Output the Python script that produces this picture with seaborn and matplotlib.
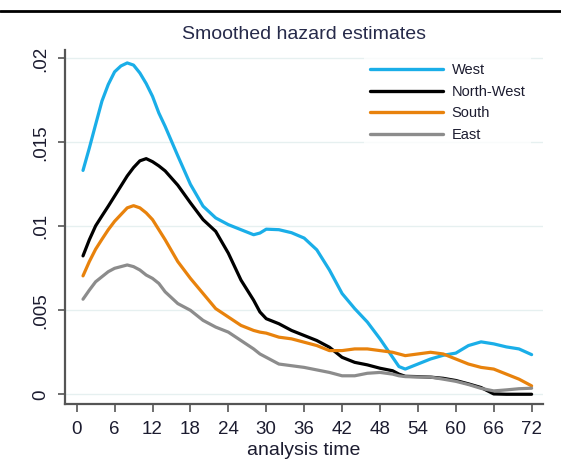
import matplotlib
matplotlib.use("Agg")
import matplotlib.pyplot as plt
import numpy as np
import pandas as pd
import seaborn as sns

# Analysis time (months) at which the smoothed hazards are listed
time = [1, 2, 3, 4, 5, 6, 7, 8, 9, 10, 11, 12, 13, 14, 16, 18, 20, 22, 24, 26,
        28, 29, 30, 32, 34, 36, 38, 40, 42, 44, 46, 48, 50, 51, 52, 54, 56, 58,
        60, 62, 64, 66, 68, 70, 72]

west = [0.01333, 0.01466, 0.01607, 0.01746, 0.01845, 0.01920, 0.01955, 0.01973,
        0.01960, 0.01913, 0.01850, 0.01774, 0.01675, 0.01595, 0.01420, 0.01250,
        0.01120, 0.01050, 0.01010, 0.00980, 0.00950, 0.00960, 0.00983, 0.00980,
        0.00962, 0.00930, 0.00860, 0.00740, 0.00600, 0.00510, 0.00430, 0.00330,
        0.00220, 0.00165, 0.00150, 0.00180, 0.00210, 0.00232, 0.00245, 0.00290,
        0.00312, 0.00300, 0.00282, 0.00270, 0.00236]

north_west = [0.00824, 0.00920, 0.01003, 0.01062, 0.01120, 0.01180, 0.01240,
              0.01300, 0.01350, 0.01390, 0.01403, 0.01385, 0.01360, 0.01330,
              0.01245, 0.01140, 0.01040, 0.00970, 0.00840, 0.00680, 0.00560,
              0.00490, 0.00450, 0.00420, 0.00380, 0.00350, 0.00320, 0.00280,
              0.00220, 0.00190, 0.00175, 0.00155, 0.00140, 0.00120, 0.00107,
              0.00105, 0.00102, 0.00095, 0.00082, 0.00062, 0.00040, 0.00002,
              0.00000, 0.00000, 0.00000]

south = [0.00705, 0.00790, 0.00864, 0.00923, 0.00980, 0.01030, 0.01070, 0.01110,
         0.01123, 0.01110, 0.01080, 0.01040, 0.00980, 0.00920, 0.00790, 0.00690,
         0.00600, 0.00510, 0.00460, 0.00410, 0.00380, 0.00370, 0.00364, 0.00340,
         0.00330, 0.00310, 0.00290, 0.00260, 0.00260, 0.00270, 0.00270, 0.00260,
         0.00250, 0.00240, 0.00230, 0.00240, 0.00250, 0.00240, 0.00210, 0.00180,
         0.00160, 0.00150, 0.00120, 0.00090, 0.00050]

east = [0.00566, 0.00620, 0.00670, 0.00700, 0.00730, 0.00750, 0.00760, 0.00770,
        0.00760, 0.00740, 0.00710, 0.00690, 0.00660, 0.00610, 0.00540, 0.00500,
        0.00440, 0.00400, 0.00370, 0.00320, 0.00270, 0.00240, 0.00220, 0.00180,
        0.00170, 0.00160, 0.00145, 0.00130, 0.00110, 0.00110, 0.00125, 0.00130,
        0.00120, 0.00110, 0.00105, 0.00103, 0.00102, 0.00090, 0.00077, 0.00058,
        0.00035, 0.00020, 0.00026, 0.00033, 0.00036]

regions = ["West", "North-West", "South", "East"]
colors = ["#1aaee8", "#000000", "#e8820c", "#8c8c8c"]

x_ticks = list(range(0, 73, 6))
y_ticks = [0, 0.005, 0.01, 0.015, 0.02]
y_tick_labels = ["0", ".005", ".01", ".015", ".02"]

df = pd.concat(
    [pd.DataFrame({"time": time, "hazard": vals, "region": name})
     for name, vals in zip(regions, [west, north_west, south, east])],
    ignore_index=True,
)

sns.set_style("white")
plt.rcParams["font.family"] = ["Liberation Sans", "DejaVu Sans"]

fig = plt.figure(figsize=(5.61, 4.68), dpi=100)
ax = fig.add_axes([65 / 561, 1 - 404 / 468, (543 - 65) / 561, (404 - 50) / 468])

sns.lineplot(data=df, x="time", y="hazard", hue="region", hue_order=regions,
             palette=dict(zip(regions, colors)), linewidth=2.3, ax=ax,
             estimator=None, sort=True)

ax.set_xlim(-1.85, 73.8)
ax.set_ylim(-0.00058, 0.0205)
ax.set_xticks(x_ticks)
ax.set_yticks(y_ticks)
ax.set_yticklabels(y_tick_labels)

text_color = "#1c1c30"
ax.tick_params(axis="x", length=6, width=1.2, color="#555555", pad=6,
               labelsize=13.5, labelcolor=text_color, bottom=True)
ax.tick_params(axis="y", length=5, width=1.2, color="#555555", pad=6,
               labelsize=13.5, labelcolor=text_color, left=True,
               labelrotation=90)
for lab in ax.get_yticklabels():
    lab.set_va("center")

ax.yaxis.grid(True, color="#e6f0f0", linewidth=1.0)
ax.xaxis.grid(False)
ax.set_axisbelow(True)

for side in ["top", "right"]:
    ax.spines[side].set_visible(False)
for side in ["left", "bottom"]:
    ax.spines[side].set_color("#555555")
    ax.spines[side].set_linewidth(1.6)

ax.set_xlabel("analysis time", fontsize=14, color=text_color, labelpad=3)
ax.set_ylabel("")
ax.set_title("Smoothed hazard estimates", fontsize=14, color="#262a4a", pad=8)

leg = ax.legend(loc="upper left", bbox_to_anchor=(0.6255, 0.979),
                borderaxespad=0, frameon=True, fontsize=10.5,
                handlelength=5.0, handletextpad=0.6, labelspacing=0.52,
                borderpad=0.4, fancybox=False)
leg.get_frame().set_facecolor("white")
leg.get_frame().set_edgecolor("none")
for line in leg.get_lines():
    line.set_linewidth(2.4)
for txt in leg.get_texts():
    txt.set_color(text_color)

# Rule across the top of the page
fig.add_artist(plt.Line2D([0, 1], [1 - 11.3 / 468, 1 - 11.3 / 468],
                          transform=fig.transFigure, color="black",
                          linewidth=2.0))

fig.savefig("out.png", dpi=100)
